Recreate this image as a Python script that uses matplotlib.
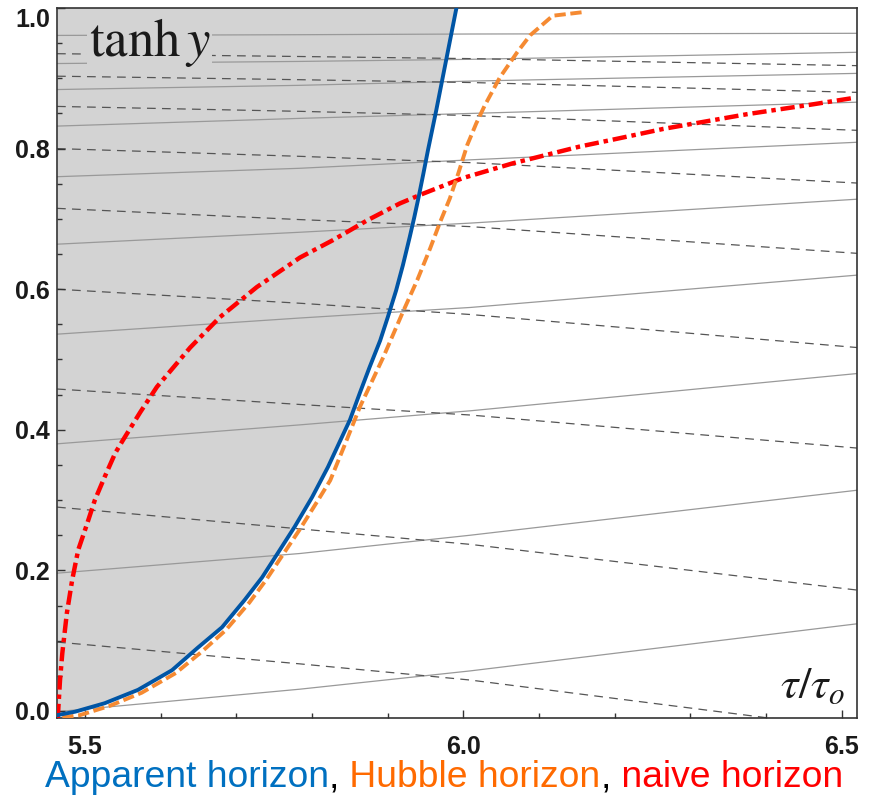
import matplotlib
matplotlib.use("Agg")
import matplotlib.pyplot as plt
from matplotlib.ticker import MultipleLocator

plt.rcParams['font.family'] = ['Liberation Sans', 'DejaVu Sans']
plt.rcParams['mathtext.fontset'] = 'stix'

# apparent horizon (blue, solid)
apparent_tau = [5.463, 5.487, 5.526, 5.570, 5.615, 5.649, 5.681, 5.711, 5.734, 5.755,
                5.777, 5.800, 5.821, 5.837, 5.850, 5.863, 5.876, 5.890, 5.900, 5.911,
                5.920, 5.929, 5.935, 5.941, 5.947, 5.953, 5.964, 5.977, 5.990, 5.993]
apparent_y = [-0.006, -0.001, 0.011, 0.030, 0.058, 0.090, 0.119, 0.158, 0.190, 0.225,
              0.262, 0.304, 0.347, 0.384, 0.414, 0.452, 0.489, 0.527, 0.560, 0.598,
              0.634, 0.674, 0.702, 0.732, 0.764, 0.797, 0.854, 0.925, 0.996, 1.011]

# Hubble horizon (orange, dashed)
hubble_tau = [5.470, 5.493, 5.532, 5.575, 5.620, 5.655, 5.686, 5.717, 5.739, 5.760,
              5.783, 5.808, 5.824, 5.843, 5.863, 5.894, 5.921, 5.939, 5.956, 5.969,
              5.982, 5.993, 6.005, 6.017, 6.028, 6.048, 6.071, 6.088, 6.118, 6.157]
hubble_y = [-0.009, -0.006, 0.007, 0.026, 0.054, 0.085, 0.115, 0.154, 0.186, 0.220,
            0.257, 0.300, 0.328, 0.378, 0.432, 0.503, 0.570, 0.613, 0.658, 0.695,
            0.729, 0.764, 0.805, 0.836, 0.861, 0.901, 0.937, 0.961, 0.989, 0.994]

# naive horizon (red, dash-dot)
naive_tau = [5.464, 5.467, 5.470, 5.476, 5.483, 5.491, 5.503, 5.513, 5.526, 5.540,
             5.550, 5.573, 5.595, 5.639, 5.678, 5.727, 5.784, 5.828, 5.873, 5.916,
             5.947, 5.999, 6.065, 6.154, 6.203, 6.264, 6.375, 6.462, 6.515]
naive_y = [-0.010, 0.044, 0.082, 0.139, 0.186, 0.229, 0.267, 0.300, 0.333, 0.367,
           0.385, 0.425, 0.461, 0.517, 0.560, 0.603, 0.645, 0.670, 0.698, 0.722,
           0.736, 0.758, 0.779, 0.803, 0.814, 0.828, 0.849, 0.863, 0.872]

# thin gray curves, sampled at the same tau values
grid_tau = [5.463, 5.784, 6.009, 6.520]
solid_curves = [
    [-0.001, 0.031, 0.057, 0.124],
    [0.196, 0.224, 0.250, 0.314],
    [0.380, 0.407, 0.427, 0.480],
    [0.536, 0.559, 0.574, 0.620],
    [0.664, 0.681, 0.694, 0.728],
    [0.760, 0.772, 0.784, 0.809],
    [0.832, 0.843, 0.850, 0.866],
    [0.884, 0.890, 0.896, 0.907],
    [0.921, 0.924, 0.927, 0.937],
    [0.961, 0.962, 0.963, 0.964],
]
dashed_curves = [
    [0.935, 0.931, 0.928, 0.918],
    [0.903, 0.898, 0.894, 0.880],
    [0.860, 0.853, 0.847, 0.826],
    [0.800, 0.789, 0.780, 0.751],
    [0.715, 0.699, 0.689, 0.651],
    [0.600, 0.580, 0.564, 0.517],
    [0.458, 0.436, 0.421, 0.374],
    [0.290, 0.259, 0.237, 0.172],
    [0.098, 0.067, 0.044, -0.026],
]

x_ticks = [5.5, 6.0, 6.5]
y_ticks = [0.0, 0.2, 0.4, 0.6, 0.8, 1.0]
x_min, x_max = 5.463, 6.520
y_min, y_max = -0.010, 0.999

fig = plt.figure(figsize=(8.69, 7.95), dpi=100)
ax = fig.add_axes([57/869, 1 - 718/795, 800/869, 710/795])

ax.fill_betweenx(apparent_y, x_min, apparent_tau, color='#d3d3d3', lw=0, zorder=0)

for ys in solid_curves:
    ax.plot(grid_tau, ys, color='#999999', lw=0.9, zorder=1)
for ys in dashed_curves:
    ax.plot(grid_tau, ys, color='#555555', lw=0.9, ls=(0, (7, 5)), zorder=1)

ax.plot(naive_tau, naive_y, color='#ff0000', lw=3.2, ls=(0, (3.2, 1.1, 1.0, 1.1)),
        zorder=3, dash_capstyle='butt')
ax.plot(hubble_tau, hubble_y, color='#f58a32', lw=2.8, ls=(0, (2.9, 1.2)),
        zorder=4, dash_capstyle='butt')
ax.plot(apparent_tau, apparent_y, color='#0055a5', lw=2.8, zorder=5)

ax.set_xlim(x_min, x_max)
ax.set_ylim(y_min, y_max)
ax.set_xticks(x_ticks)
ax.set_yticks(y_ticks)
ax.set_xticklabels([f"{v:.1f}" for v in x_ticks])
ax.set_yticklabels([f"{v:.1f}" for v in y_ticks])
ax.xaxis.set_minor_locator(MultipleLocator(0.1))
ax.yaxis.set_minor_locator(MultipleLocator(0.05))
ax.tick_params(axis='both', which='both', direction='in', color='#333333', width=1.0)
ax.tick_params(axis='both', which='major', length=6, labelsize=18, labelcolor='#1a1a1a')
ax.tick_params(axis='both', which='minor', length=3.5)
ax.tick_params(axis='x', which='major', pad=12)
ax.tick_params(axis='y', which='major', pad=5)
for lab in ax.get_xticklabels() + ax.get_yticklabels():
    lab.set_fontweight('bold')
ax.get_yticklabels()[-1].set_verticalalignment('top')
for sp in ax.spines.values():
    sp.set_color('#333333')
    sp.set_linewidth(1.2)

ax.text(5.505, 0.932, r'$\tanh y$', fontsize=38, color='#1a1a1a', zorder=6,
        va='baseline', ha='left',
        bbox=dict(facecolor='#d3d3d3', edgecolor='none', pad=1))
ax.text(6.505, 0.018, r'$\tau/\tau_o$', fontsize=32, color='#1a1a1a', zorder=6,
        va='baseline', ha='right')

# colored caption under the axes
pieces = [("Apparent horizon", "#0070c0"), (",", "#000000"), (" Hubble horizon", "#ff6a00"),
          (",", "#000000"), (" naive horizon", "#ff0000")]
fig.canvas.draw()
renderer = fig.canvas.get_renderer()
xpos = 45 / 869
for txt, col in pieces:
    t = fig.text(xpos, 8 / 795, txt, color=col, fontsize=26.8, va='baseline', ha='left')
    xpos += t.get_window_extent(renderer).width / fig.bbox.width

fig.savefig("out.png", dpi=100)
